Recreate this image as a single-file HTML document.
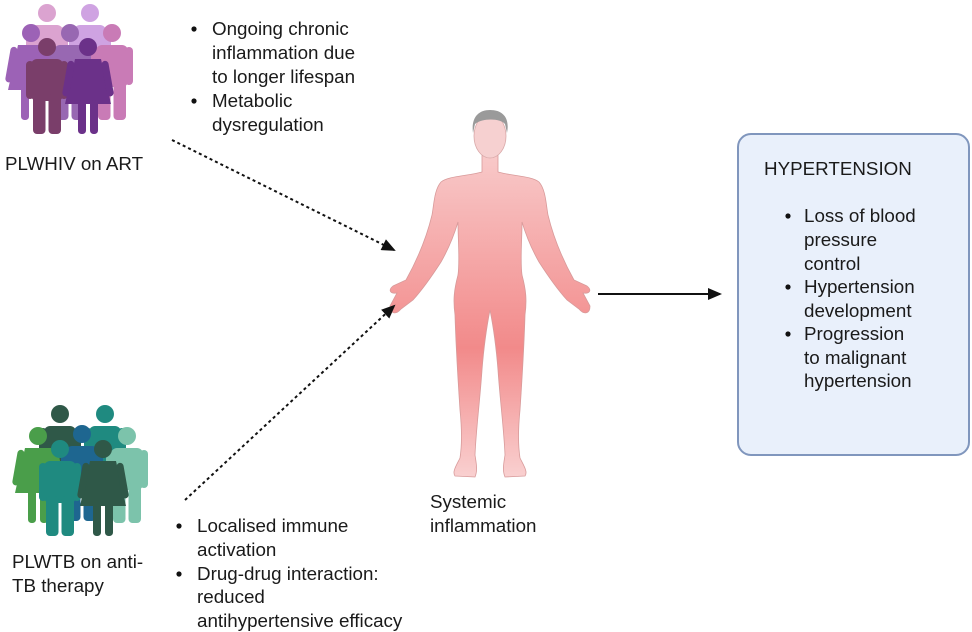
<!DOCTYPE html>
<html><head><meta charset="utf-8"><style>
html,body{margin:0;padding:0;background:#fff}
svg{display:block}
text{font-family:"Liberation Sans",sans-serif;font-size:18.8px;fill:#1a1a1a}
</style></head><body>
<svg width="972" height="632" viewBox="0 0 972 632" xmlns="http://www.w3.org/2000/svg">
<defs>
<symbol id="man" overflow="visible">
<circle cx="0" cy="9" r="9"/>
<rect x="-16" y="21" width="32" height="42" rx="6"/>
<rect x="-21" y="23" width="8" height="38" rx="4"/>
<rect x="13" y="23" width="8" height="38" rx="4"/>
<rect x="-14" y="56" width="12.5" height="40" rx="4"/>
<rect x="1.5" y="56" width="12.5" height="40" rx="4"/>
</symbol>
<symbol id="woman" overflow="visible">
<circle cx="0" cy="9" r="9"/>
<path d="M-13,21 L13,21 L23,66 L-23,66 Z"/>
<rect x="-20" y="23" width="7" height="36" rx="3.5" transform="rotate(10 -16 23)"/>
<rect x="13" y="23" width="7" height="36" rx="3.5" transform="rotate(-10 16 23)"/>
<rect x="-10" y="62" width="8" height="34" rx="3.5"/>
<rect x="2" y="62" width="8" height="34" rx="3.5"/>
</symbol>
<linearGradient id="skin" x1="0" y1="0" x2="0" y2="1">
<stop offset="0" stop-color="#f8c9c9"/>
<stop offset="0.6" stop-color="#f28a8a"/>
<stop offset="1" stop-color="#f9d0d0"/>
</linearGradient>
<marker id="ah" markerWidth="14" markerHeight="12" refX="12" refY="6" orient="auto" markerUnits="userSpaceOnUse">
<path d="M0,0 L14,6 L0,12 Z" fill="#111"/>
</marker>
</defs>

<use href="#man" x="47" y="4" fill="#dba3d0"/>
<use href="#man" x="90" y="4" fill="#cfa3e2"/>
<use href="#woman" x="31" y="24" fill="#9c62b6"/>
<use href="#man" x="70" y="24" fill="#9868b2"/>
<use href="#man" x="112" y="24" fill="#c97bb6"/>
<use href="#man" x="47" y="38" fill="#7a3e6a"/>
<use href="#woman" x="88" y="38" fill="#6b3189"/>

<use href="#man" x="60" y="405" fill="#2f5848"/>
<use href="#man" x="105" y="405" fill="#1f8a80"/>
<use href="#woman" x="38" y="427" fill="#4a9e4a"/>
<use href="#man" x="82" y="425" fill="#1e6690"/>
<use href="#man" x="127" y="427" fill="#7cc3ab"/>
<use href="#man" x="60" y="440" fill="#1f8a80"/>
<use href="#woman" x="103" y="440" fill="#2f5848"/>

<path d="M482,155 L482,172 C468,176 448,176 441,182 C434,190 434,205 432,215 C426,240 416,262 406,280 L393,286 C388,290 390,294 397,293 L390,306 C390,314 396,315 401,309 L413,300 C422,290 432,276 441,262 C449,248 455,232 458,222 C458,242 460,260 458,275 C454,290 453,300 455,315 C456,350 458,380 460,410 C462,430 462,445 460,458 C456,466 452,472 455,476 L475,477 C478,470 476,462 475,455 C476,430 480,400 482,370 C484,345 487,325 490,310 C493,325 496,345 498,370 C500,400 504,430 505,455 C504,462 502,470 505,477 L525,476 C528,472 524,466 520,458 C518,445 518,430 520,410 C522,380 524,350 525,315 C527,300 526,290 522,275 C520,260 522,242 522,222 C525,232 531,248 539,262 C548,276 558,290 567,300 L579,309 C584,315 590,314 590,306 L583,293 C590,294 592,290 587,286 L574,280 C564,262 554,240 548,215 C546,205 546,190 539,182 C532,176 512,176 498,172 L498,155 Z" fill="url(#skin)" stroke="#d89a9a" stroke-width="0.8"/>
<ellipse cx="490" cy="136" rx="16" ry="22" fill="#f6d0d0" stroke="#d8a8a8" stroke-width="0.8"/>
<path d="M473,133 C471,118 478,110 490,110 C503,110 510,118 507,133 L505,124 C500,118 482,118 475,124 Z" fill="#9a9a9a"/>

<line x1="172" y1="140" x2="394" y2="250" stroke="#111" stroke-width="2" stroke-dasharray="3,3" marker-end="url(#ah)"/>
<line x1="185" y1="500" x2="394" y2="306" stroke="#111" stroke-width="2" stroke-dasharray="3,3" marker-end="url(#ah)"/>
<line x1="598" y1="294" x2="720" y2="294" stroke="#111" stroke-width="2" marker-end="url(#ah)"/>

<rect x="738" y="134" width="231" height="321" rx="13" fill="#e9f0fb" stroke="#8096bd" stroke-width="2"/>
<text x="764" y="175">HYPERTENSION</text>
<circle cx="788" cy="216" r="2.6" fill="#111"/>
<circle cx="788" cy="287" r="2.6" fill="#111"/>
<circle cx="788" cy="334" r="2.6" fill="#111"/>
<text x="804" y="222">Loss of blood</text>
<text x="804" y="246">pressure</text>
<text x="804" y="270">control</text>
<text x="804" y="293">Hypertension</text>
<text x="804" y="317">development</text>
<text x="804" y="340">Progression</text>
<text x="804" y="364">to malignant</text>
<text x="804" y="387">hypertension</text>

<circle cx="194" cy="29" r="2.6" fill="#111"/>
<circle cx="194" cy="101" r="2.6" fill="#111"/>
<text x="212" y="35">Ongoing chronic</text>
<text x="212" y="59">inflammation due</text>
<text x="212" y="83">to longer lifespan</text>
<text x="212" y="107">Metabolic</text>
<text x="212" y="131">dysregulation</text>
<text x="5" y="170">PLWHIV on ART</text>

<circle cx="179" cy="526" r="2.6" fill="#111"/>
<circle cx="179" cy="574" r="2.6" fill="#111"/>
<text x="197" y="532">Localised immune</text>
<text x="197" y="556">activation</text>
<text x="197" y="580">Drug-drug interaction:</text>
<text x="197" y="603">reduced</text>
<text x="197" y="627">antihypertensive efficacy</text>
<text x="12" y="568">PLWTB on anti-</text>
<text x="12" y="592">TB therapy</text>
<text x="430" y="508">Systemic</text>
<text x="430" y="532">inflammation</text>
</svg>
</body></html>
